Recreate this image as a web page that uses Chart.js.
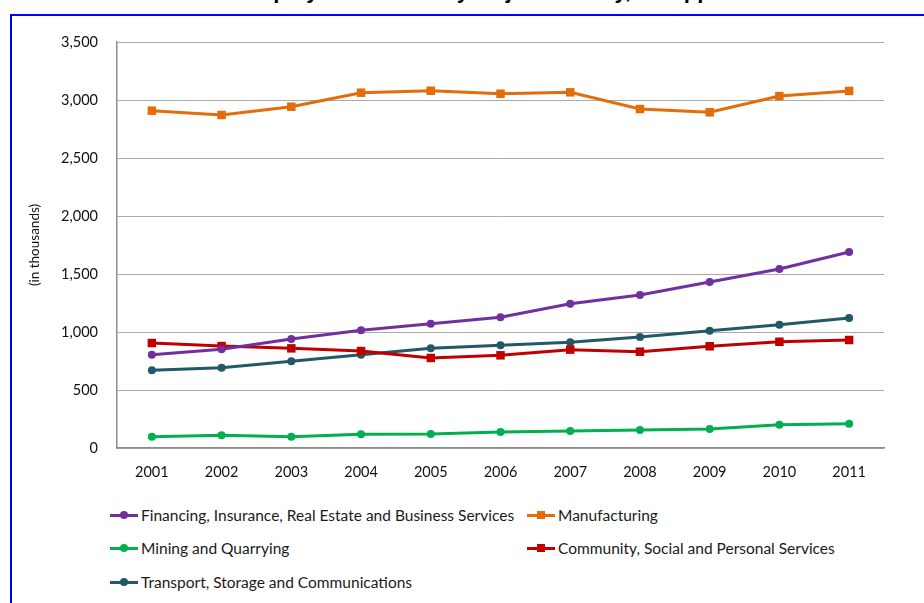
<!DOCTYPE html>
<html>
<head>
<meta charset="utf-8">
<script src="https://cdn.jsdelivr.net/npm/chart.js@4.4.0/dist/chart.umd.min.js"></script>
<style>
  body { margin: 0; background: #fff; width: 924px; height: 603px; overflow: hidden; position: relative; font-family: Lato, sans-serif; }
  #title { position: absolute; left: 123px; top: -22px; white-space: nowrap; font: bold 22px "Liberation Sans", Arial, sans-serif; color: #000; }
  #frame { position: absolute; left: 10px; top: 14px; width: 1000px; height: 700px; border: 2px solid #0000ff; }
  #wrap { position: absolute; left: 0; top: 0; width: 924px; height: 500px; }
  .item { position: absolute; display: flex; align-items: center; height: 20px; font-size: 15.5px; color: #1a1a1a; white-space: nowrap; }
  .sw { position: relative; width: 28px; height: 3px; margin-right: 3px; }
  .sw i { position: absolute; left: 50%; top: 50%; width: 8px; height: 8px; transform: translate(-50%, -50%); }
</style>
</head>
<body>
<div id="title">Number of Employed Persons by Major Industry, Philippines: 2001-2011</div>
<div id="frame"></div>
<div id="wrap"><canvas id="chart" width="924" height="500"></canvas></div>
<div id="legend"></div>
<script>
// values in thousands
const years = ['2001', '2002', '2003', '2004', '2005', '2006', '2007', '2008', '2009', '2010', '2011'];
const financing = [804, 851, 940, 1015, 1072, 1127, 1244, 1319, 1431, 1543, 1690];
const manufacturing = [2908, 2871, 2942, 3063, 3080, 3054, 3066, 2922, 2894, 3034, 3078];
const mining = [97, 109, 97, 118, 121, 138, 147, 155, 164, 201, 210];
const community = [905, 879, 859, 836, 776, 799, 848, 830, 877, 916, 931];
const transport = [670, 692, 747, 804, 859, 885, 911, 957, 1011, 1063, 1121];
const yTicks = [0, 500, 1000, 1500, 2000, 2500, 3000, 3500];

function series(label, data, color, style) {
    return {
        label: label,
        data: data,
        borderColor: color,
        backgroundColor: color,
        borderWidth: 3,
        pointStyle: style,
        pointRadius: style === 'rect' ? 6 : 4,
        pointBorderWidth: 0,
        tension: 0
    };
}

const datasets = [
    series('Financing, Insurance, Real Estate and Business Services', financing, '#7030a0', 'circle'),
    series('Manufacturing', manufacturing, '#e46c0a', 'rect'),
    series('Mining and Quarrying', mining, '#00b050', 'circle'),
    series('Community, Social and Personal Services', community, '#c00000', 'rect'),
    series('Transport, Storage and Communications', transport, '#215967', 'circle')
];

const tickFont = { family: 'Lato', size: 14.5 };

new Chart(document.getElementById('chart'), {
    type: 'line',
    data: { labels: years, datasets: datasets },
    options: {
        responsive: false,
        animation: false,
        layout: { padding: { top: 42, right: 40, left: 0, bottom: 0 } },
        plugins: { legend: { display: false }, tooltip: { enabled: false } },
        scales: {
            x: {
                offset: true,
                grid: { display: false, drawTicks: false },
                border: { color: '#8c8c8c', width: 1.5 },
                ticks: { color: '#111', font: tickFont, padding: 16 },
                afterFit: s => { s.height = 52; }
            },
            y: {
                min: 0,
                max: 3500,
                afterBuildTicks: s => { s.ticks = yTicks.map(v => ({ value: v })); },
                grid: { color: '#ababab', lineWidth: 1, drawTicks: false },
                border: { color: '#8c8c8c', width: 1.5 },
                ticks: {
                    color: '#111',
                    font: tickFont,
                    padding: 19,
                    callback: v => v.toLocaleString('en-US')
                },
                title: {
                    display: true,
                    text: '(in thousands)',
                    color: '#111',
                    font: { family: 'Lato', size: 13.5 },
                    padding: { top: 27, bottom: 0 }
                },
                afterFit: s => { s.width = 117; }
            }
        }
    }
});

// legend in two columns, like the original
const legendPos = [[110, 515], [527, 515], [110, 548], [527, 548], [110, 582]];
const legend = document.getElementById('legend');
datasets.forEach((ds, i) => {
    const item = document.createElement('div');
    item.className = 'item';
    item.style.left = legendPos[i][0] + 'px';
    item.style.top = (legendPos[i][1] - 10) + 'px';
    const sw = document.createElement('span');
    sw.className = 'sw';
    sw.style.background = ds.borderColor;
    const mk = document.createElement('i');
    mk.style.background = ds.borderColor;
    if (ds.pointStyle === 'circle') mk.style.borderRadius = '50%';
    sw.appendChild(mk);
    item.appendChild(sw);
    item.appendChild(document.createTextNode(ds.label));
    legend.appendChild(item);
});
</script>
</body>
</html>
